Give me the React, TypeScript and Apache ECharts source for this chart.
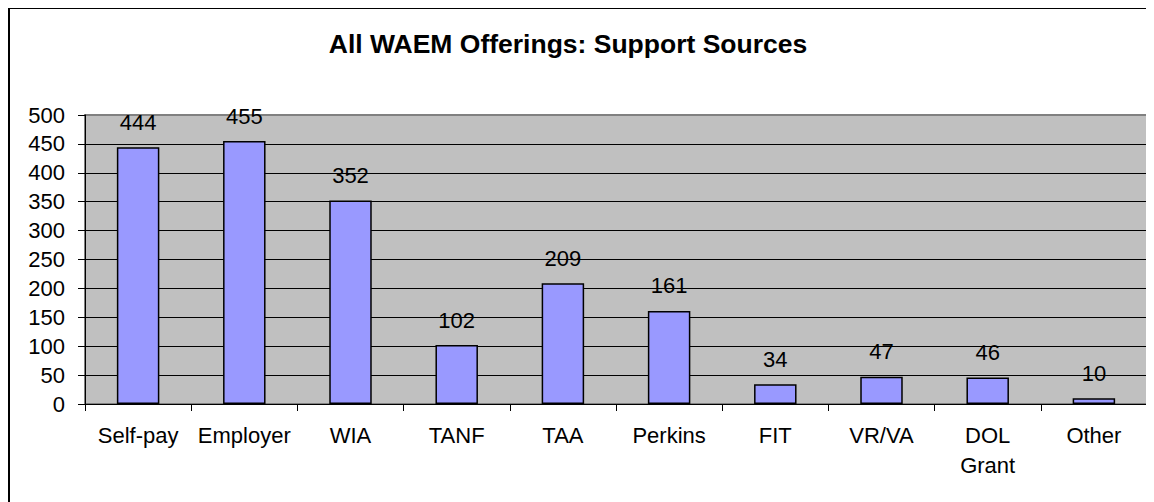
import React, { useEffect, useRef } from "react";
import * as echarts from "echarts";

const categories = ["Self-pay", "Employer", "WIA", "TANF", "TAA", "Perkins", "FIT", "VR/VA", "DOL\nGrant", "Other"];
const supportCounts = [444, 455, 352, 102, 209, 161, 34, 47, 46, 10];
const titleText = "All WAEM Offerings: Support Sources";

const FONT = "'Liberation Sans', Arial, sans-serif";

export default function App() {
  const ref = useRef<HTMLDivElement>(null);
  useEffect(() => {
    if (!ref.current) return;
    const chart = echarts.init(ref.current, null, { renderer: "svg" });
    chart.setOption({
      animation: false,
      backgroundColor: "#ffffff",
      textStyle: { fontFamily: FONT },
      title: {
        text: titleText,
        left: 555,
        top: 17,
        textAlign: "center",
        textStyle: { fontFamily: FONT, fontSize: 26.5, fontWeight: "bold", color: "#000" },
      },
      graphic: [
        {
          type: "rect",
          shape: { x: 1, y: 0, width: 1200, height: 560 },
          style: { fill: "none", stroke: "#000", lineWidth: 2 },
          silent: true,
        },
      ],
      grid: {
        left: 77,
        top: 107,
        right: 7,
        bottom: 98,
        show: true,
        backgroundColor: "#C0C0C0",
        borderColor: "#808080",
        borderWidth: 2,
      },
      xAxis: {
        type: "category",
        data: categories,
        axisLine: { show: true, lineStyle: { color: "#000", width: 1 } },
        axisTick: { show: true, length: 7, alignWithLabel: false, lineStyle: { color: "#000" } },
        axisLabel: {
          fontFamily: FONT,
          fontSize: 22,
          color: "#000",
          margin: 16,
          lineHeight: 30,
          interval: 0,
        },
      },
      yAxis: {
        type: "value",
        min: 0,
        max: 500,
        interval: 50,
        axisLine: { show: true, lineStyle: { color: "#000", width: 1 } },
        axisTick: { show: true, length: 7, lineStyle: { color: "#000" } },
        axisLabel: { fontFamily: FONT, fontSize: 22, color: "#000", margin: 20 },
        splitLine: { show: true, showMaxLine: false, lineStyle: { color: "#000", width: 1 } },
      },
      series: [
        {
          type: "bar",
          data: supportCounts,
          barWidth: "40%",
          itemStyle: { color: "#9999FF", borderColor: "#000", borderWidth: 1.5 },
          label: {
            show: true,
            position: "top",
            distance: 14,
            fontFamily: FONT,
            fontSize: 22,
            color: "#000",
          },
        },
      ],
    });
    return () => chart.dispose();
  }, []);
  return <div ref={ref} style={{ width: 1146, height: 494 }} />;
}
